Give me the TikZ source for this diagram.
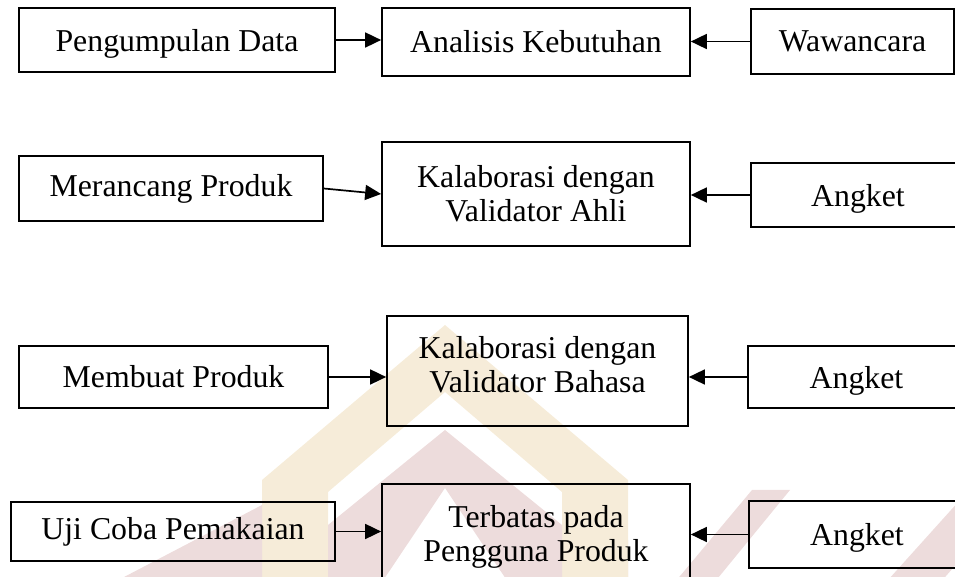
\documentclass[tikz,border=0pt]{standalone}
\usepackage{fontspec}
\setmainfont{Liberation Serif}
\usetikzlibrary{arrows.meta}
\definecolor{wmtan}{HTML}{F6ECD9}
\definecolor{wmpink}{HTML}{EDDCDC}
\tikzset{
  box/.style={draw, line width=0.85pt, align=center, inner sep=0pt,
              font=\fontsize{15.9}{17}\selectfont},
  arr/.style={-{Triangle[length=8pt,width=7.5pt]}, line width=0.85pt},
}

\begin{document}
\begin{tikzpicture}[x=0.5pt, y=-0.5pt]
    \useasboundingbox (0,0) rectangle (955,577);
    % watermark
    \fill[wmtan, even odd rule]
      (262,600) -- (262,480) -- (445,325) -- (628,480) -- (628,600) -- cycle
      (328,600) -- (328,492) -- (445,392) -- (562,492) -- (562,600) -- cycle;
    \fill[wmpink, even odd rule]
      (328,600) -- (328,525) -- (445,430) -- (562,525) -- (562,600) -- cycle
      (370,600) -- (445,488) -- (520,600) -- cycle;
    \fill[wmpink] (262,505) -- (262,600) -- (80,600) -- cycle;
    \fill[wmpink] (628,540) -- (628,600) -- (660,600) -- (752,490) -- (790,490) -- (700,600) -- (628,600);
    \fill[wmpink] (870,600) -- (960,500) -- (960,560) -- (925,600) -- cycle;
    % row 1
    \node[box, text depth=0pt, minimum width=158pt, minimum height=32pt] (pd) at (177,40) {Pengumpulan Data};
    \node[box, minimum width=154pt, minimum height=34pt] (ak) at (536,42) {Analisis Kebutuhan};
    \node[box, minimum width=101.5pt, minimum height=32.5pt] (ww) at (852.5,41.5) {Wawancara};
    % row 2
    \node[box, minimum width=152pt, minimum height=32.5pt] (mp) at (171,188.5) {Merancang Produk};
    \node[box, minimum width=154pt, minimum height=52pt] (kva) at (536,194) {Kalaborasi dengan\\Validator Ahli};
    \node[box, text depth=0pt, minimum width=107pt, minimum height=32pt] (ang2) at (858,195) {Angket};
    % row 3
    \node[box, minimum width=154.5pt, minimum height=31pt] (bp) at (173.5,377) {Membuat Produk};
    \node[box, text depth=7pt, minimum width=150.5pt, minimum height=55pt] (kvb) at (537.5,371) {Kalaborasi dengan\\Validator Bahasa};
    \node[box, text depth=0pt, minimum width=108.5pt, minimum height=31pt] (ang3) at (856.5,377) {Angket};
    % row 4
    \node[box, minimum width=162pt, minimum height=29.5pt] (uc) at (173,531.5) {Uji Coba Pemakaian};
    \node[box, text depth=8.4pt, minimum width=154pt, minimum height=58pt] (tp) at (536,542) {Terbatas pada\\Pengguna Produk};
    \node[box, text depth=0pt, minimum width=108pt, minimum height=33.5pt] (ang4) at (857,534.5) {Angket};
    % arrows
    \draw[arr] (pd.east) -- (pd.east -| ak.west);
    \draw[arr] (ww.west) -- (ww.west -| ak.east);
    \draw[arr] (mp.east) -- (kva.west);
    \draw[arr] (ang2.west) -- (ang2.west -| kva.east);
    \draw[arr] (bp.east) -- (bp.east -| kvb.west);
    \draw[arr] (ang3.west) -- (ang3.west -| kvb.east);
    \draw[arr] (uc.east) -- (uc.east -| tp.west);
    \draw[arr] (ang4.west) -- (ang4.west -| tp.east);
\end{tikzpicture}
\end{document}
